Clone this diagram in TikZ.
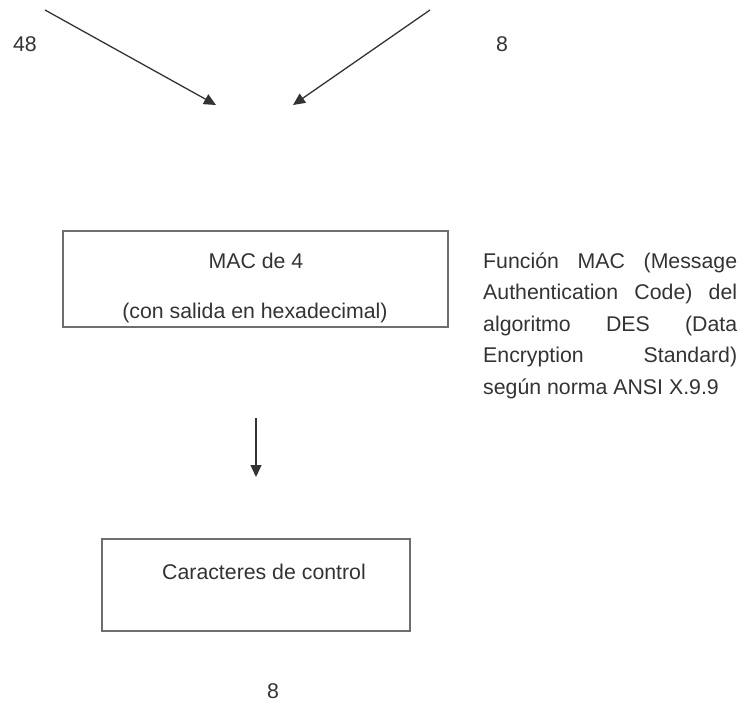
\documentclass[tikz,border=0pt]{standalone}
\usepackage{fontspec}
\setmainfont{Liberation Sans}
\usetikzlibrary{arrows.meta}
\definecolor{ink}{HTML}{333333}
\definecolor{boxline}{HTML}{6E6E6E}
\begin{document}
\begin{tikzpicture}[x=1pt,y=-1pt,
  txt/.style={inner sep=0pt, text=ink, font=\fontsize{21.3}{25}\selectfont},
  boxnode/.style={draw=boxline, line width=2.6pt, inner sep=0pt},
  arr/.style={draw=ink, line width=1.3pt, -{Triangle[length=12pt,width=11pt]}}]
\useasboundingbox (0,0) rectangle (744,707);

% input labels
\node[txt] (n48) at (25,44) {48};
\node[txt] (n8) at (502,44) {8};
\coordinate (s1) at (45,10);
\coordinate (t1) at (216,105);
\coordinate (s2) at (430,10);
\coordinate (t2) at (293,105);
\draw[arr] (s1) -- (t1);
\draw[arr] (s2) -- (t2);

% MAC box
\node[boxnode, minimum width=385pt, minimum height=96pt] (mac) at (255.5,279) {};
\node[txt, anchor=base] (mac1) at (256,268) {MAC de 4};
\node[txt, anchor=base] (mac2) at (255,318) {(con salida en hexadecimal)};

% description
\node[txt, anchor=base west] (d1) at (483,268) {\makebox[254pt][s]{Función MAC (Message}};
\node[txt, anchor=base west] (d2) at (483,299.5) {\makebox[254pt][s]{Authentication Code) del}};
\node[txt, anchor=base west] (d3) at (483,331) {\makebox[254pt][s]{algoritmo DES (Data}};
\node[txt, anchor=base west] (d4) at (483,362.5) {\makebox[254pt][s]{Encryption Standard)}};
\node[txt, anchor=base west] (d5) at (483,394) {según norma ANSI X.9.9};

% vertical arrow
\coordinate (v1) at (256,418);
\coordinate (v2) at (256,477);
\draw[arr] (v1) -- (v2);

% control box
\node[boxnode, minimum width=308pt, minimum height=92pt] (ctl) at (256,585) {};
\node[txt, anchor=base] (ctl1) at (264,579) {Caracteres de control};

% output label
\node[txt] (out8) at (273,691) {8};
\end{tikzpicture}
\end{document}
